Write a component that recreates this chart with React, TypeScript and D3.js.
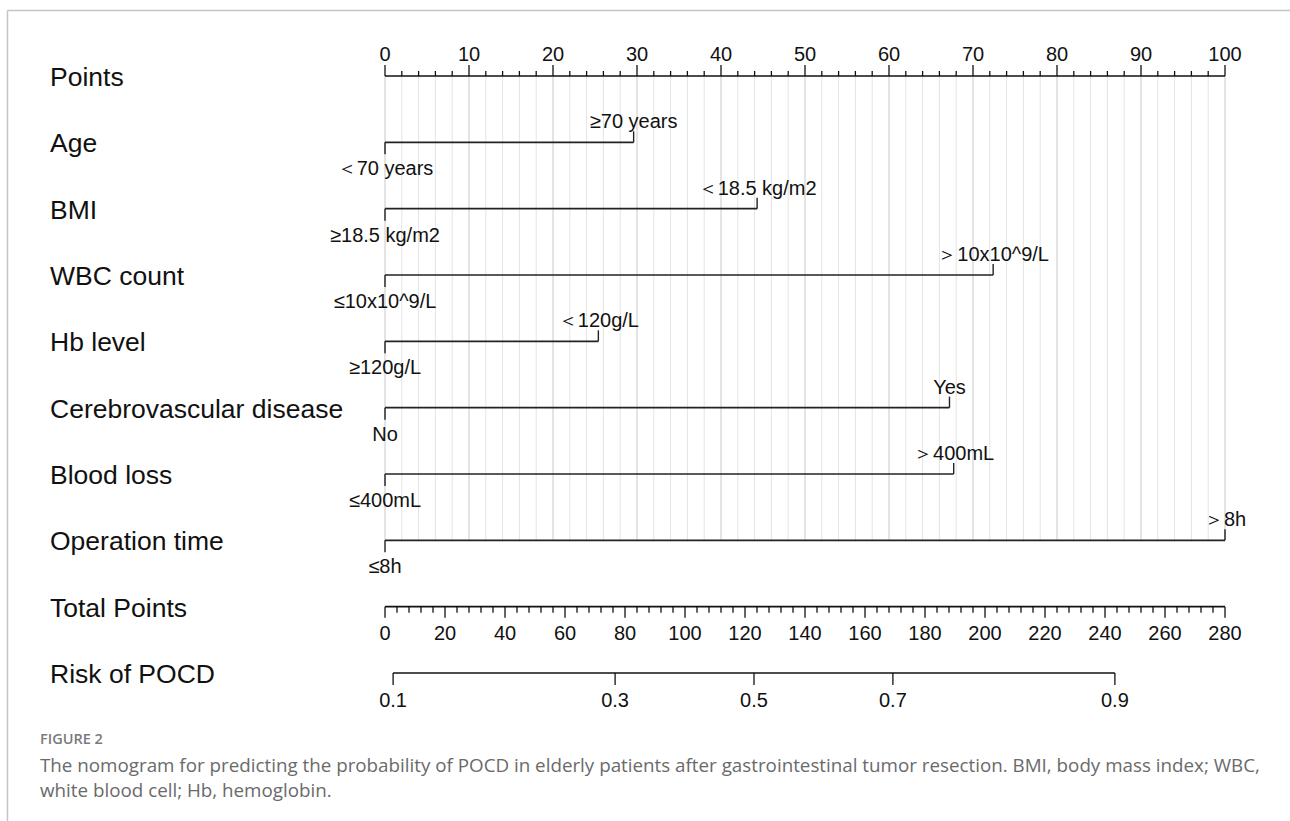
import React from "react";
import * as d3 from "d3";

// nomogram rows, top to bottom
const rowNames = [
  "Points",
  "Age",
  "BMI",
  "WBC count",
  "Hb level",
  "Cerebrovascular disease",
  "Blood loss",
  "Operation time",
  "Total Points",
  "Risk of POCD",
];

const predictors = [
  "Age",
  "BMI",
  "WBC count",
  "Hb level",
  "Cerebrovascular disease",
  "Blood loss",
  "Operation time",
];
// points given to the second level of each predictor (first level = 0)
const predictorPoints = [29.6, 44.3, 72.4, 25.4, 67.2, 67.7, 100];
const lowLabels = ["＜70 years", "≥18.5 kg/m2", "≤10x10^9/L", "≥120g/L", "No", "≤400mL", "≤8h"];
const highLabels = ["≥70 years", "＜18.5 kg/m2", "＞10x10^9/L", "＜120g/L", "Yes", "＞400mL", "＞8h"];

const pointTicks = [0, 10, 20, 30, 40, 50, 60, 70, 80, 90, 100];
const totalTicks = [0, 20, 40, 60, 80, 100, 120, 140, 160, 180, 200, 220, 240, 260, 280];
const riskTicks = ["0.1", "0.3", "0.5", "0.7", "0.9"];
// total points at which each risk tick sits
const riskTotalPoints = [2.7, 76.7, 123, 169.3, 243.3];

const captionTitle = "FIGURE 2";
const captionLines = [
  "The nomogram for predicting the probability of POCD in elderly patients after gastrointestinal tumor resection. BMI, body mass index; WBC,",
  "white blood cell; Hb, hemoglobin.",
];

const W = 1290;
const H = 821;
const FONT = "'Liberation Sans', Arial, sans-serif";

export default function App() {
  const x = d3.scaleLinear().domain([0, 100]).range([385, 1225]);
  const xTotal = d3.scaleLinear().domain([0, 280]).range([385, 1225]);
  const y = d3.scalePoint<string>().domain(rowNames).range([76, 673]);

  const minorPts = d3.range(0, 101, 2);
  const minorTotal = d3.range(0, 281, 4);
  const gridTop = y("Points")!;
  const gridBottom = y("Operation time")!;
  const yTotal = y("Total Points")!;
  const yRisk = y("Risk of POCD")!;

  return (
    <svg
      width={W}
      height={H}
      style={{ position: "absolute", left: 0, top: 0, background: "#fff" }}
      fontFamily={FONT}
    >
      {/* page frame */}
      <line x1={7.5} x2={W} y1={10.5} y2={10.5} stroke="#c4c4c4" strokeWidth={1.5} />
      <line x1={7.5} x2={7.5} y1={10.5} y2={H} stroke="#c4c4c4" strokeWidth={1.5} />

      {/* vertical grid */}
      <g>
        {minorPts.map((d) => (
          <line
            key={"g" + d}
            x1={x(d)}
            x2={x(d)}
            y1={gridTop}
            y2={gridBottom}
            stroke={d % 10 === 0 ? "#c9c9c9" : "#e4e4e4"}
            strokeWidth={1}
          />
        ))}
      </g>

      {/* row labels */}
      {rowNames.map((r) => (
        <text key={r} x={50} y={y(r)! + 10} fontSize={26.5} fill="#111">
          {r}
        </text>
      ))}

      {/* Points axis */}
      <g>
        <line x1={x(0)} x2={x(100)} y1={gridTop} y2={gridTop} stroke="#111" strokeWidth={1.6} />
        {minorPts.map((d) => (
          <line
            key={"p" + d}
            x1={x(d)}
            x2={x(d)}
            y1={gridTop}
            y2={gridTop - (d % 10 === 0 ? 11 : 5)}
            stroke="#111"
            strokeWidth={1.3}
          />
        ))}
        {pointTicks.map((d) => (
          <text key={"pl" + d} x={x(d)} y={gridTop - 15} fontSize={20} textAnchor="middle" fill="#111">
            {d}
          </text>
        ))}
      </g>

      {/* predictor rows */}
      {predictors.map((p, i) => {
        const yy = y(p)!;
        const x0 = x(0);
        const x1 = x(predictorPoints[i]);
        return (
          <g key={p}>
            <line x1={x0} x2={x1} y1={yy} y2={yy} stroke="#222" strokeWidth={1.6} />
            <line x1={x0} x2={x0} y1={yy} y2={yy + 12} stroke="#222" strokeWidth={1.4} />
            <line x1={x1} x2={x1} y1={yy} y2={yy - 11} stroke="#222" strokeWidth={1.4} />
            <text x={x1} y={yy - 14} fontSize={20} textAnchor="middle" fill="#111">
              {highLabels[i]}
            </text>
            <text x={x0} y={yy + 33} fontSize={20} textAnchor="middle" fill="#111">
              {lowLabels[i]}
            </text>
          </g>
        );
      })}

      {/* Total Points axis */}
      <g>
        <line x1={xTotal(0)} x2={xTotal(280)} y1={yTotal} y2={yTotal} stroke="#111" strokeWidth={1.6} />
        {minorTotal.map((d) => (
          <line
            key={"t" + d}
            x1={xTotal(d)}
            x2={xTotal(d)}
            y1={yTotal}
            y2={yTotal + (d % 20 === 0 ? 11 : 6)}
            stroke="#111"
            strokeWidth={1.3}
          />
        ))}
        {totalTicks.map((d) => (
          <text key={"tl" + d} x={xTotal(d)} y={yTotal + 33} fontSize={20} textAnchor="middle" fill="#111">
            {d}
          </text>
        ))}
      </g>

      {/* Risk axis */}
      <g>
        <line
          x1={xTotal(riskTotalPoints[0])}
          x2={xTotal(riskTotalPoints[riskTotalPoints.length - 1])}
          y1={yRisk}
          y2={yRisk}
          stroke="#111"
          strokeWidth={1.6}
        />
        {riskTicks.map((t, i) => (
          <g key={t}>
            <line
              x1={xTotal(riskTotalPoints[i])}
              x2={xTotal(riskTotalPoints[i])}
              y1={yRisk}
              y2={yRisk + 12}
              stroke="#111"
              strokeWidth={1.3}
            />
            <text x={xTotal(riskTotalPoints[i])} y={yRisk + 34} fontSize={20} textAnchor="middle" fill="#111">
              {t}
            </text>
          </g>
        ))}
      </g>

      {/* caption */}
      <text x={40} y={744} fontFamily="'Open Sans', sans-serif" fontWeight={600} fontSize={14.5} fill="#7a7a7a">
        {captionTitle}
      </text>
      {captionLines.map((l, i) => (
        <text
          key={i}
          x={40}
          y={772 + i * 25}
          fontFamily="'Open Sans', sans-serif"
          fontSize={18.8}
          fill="#6a6a6a"
        >
          {l}
        </text>
      ))}
    </svg>
  );
}
